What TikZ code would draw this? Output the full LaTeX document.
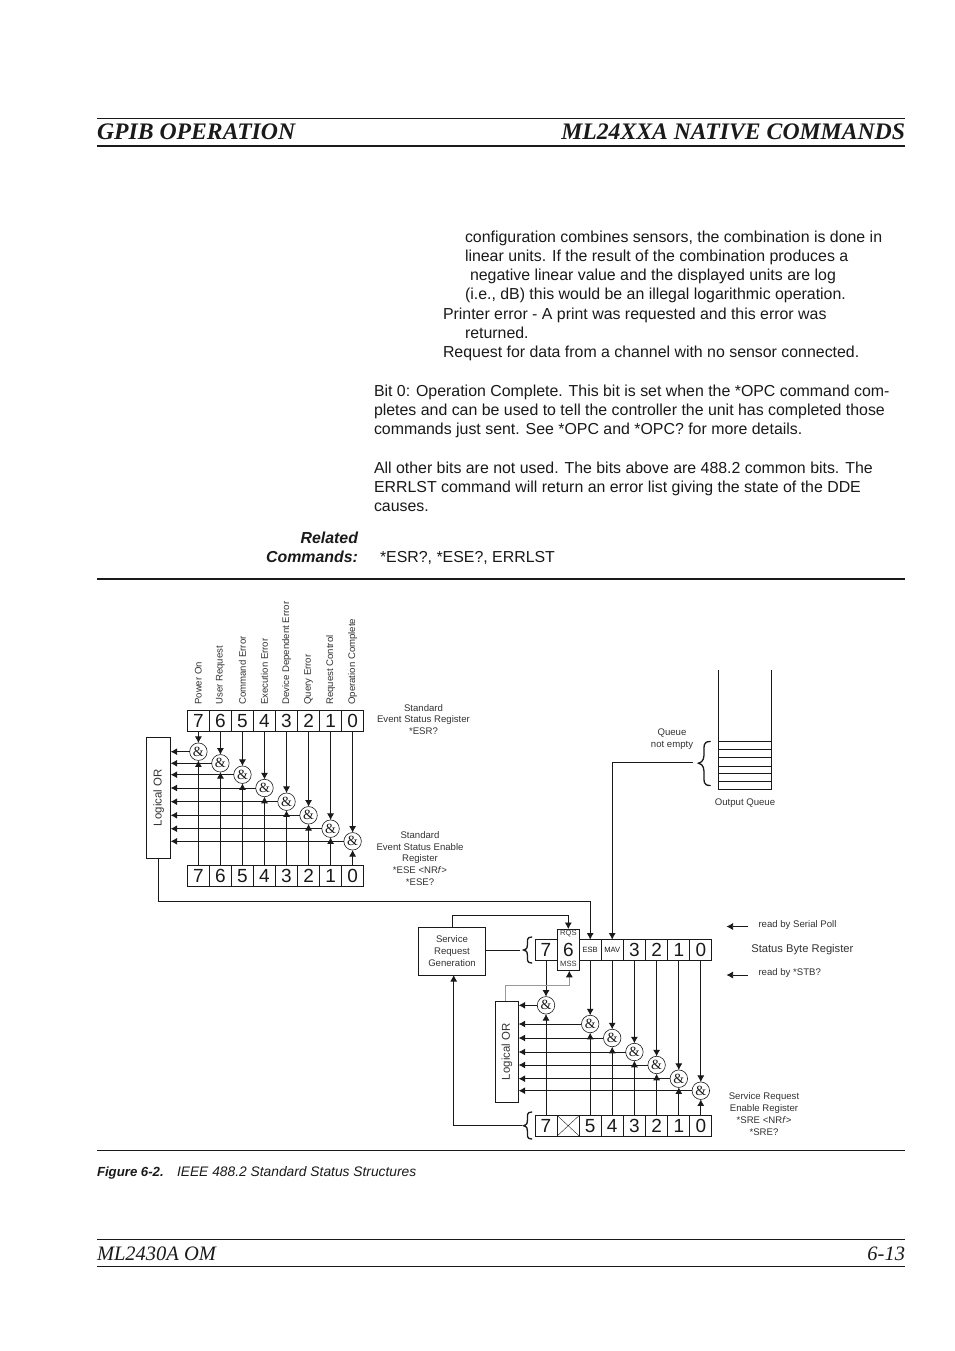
\documentclass[tikz,border=0pt]{standalone}
\usepackage{fontspec}
\setmainfont{Liberation Sans}
\newfontfamily\hdfont{Liberation Serif}
\usetikzlibrary{arrows.meta,calc}
\definecolor{ink}{HTML}{1A1A1A}
\definecolor{lab}{HTML}{333333}
\definecolor{gline}{HTML}{999999}
\newcommand{\fs}[1]{\fontsize{#1}{#1}\selectfont}
\tikzset{
  x=1pt,y=-1pt,
  every node/.style={inner sep=0pt,outer sep=0pt,text=ink},
  wire/.style={draw=ink,line width=0.75pt},
  arr/.style={wire,-{Latex[length=6.5pt,width=7pt]}},
  cell/.style={draw=ink,line width=0.8pt,minimum width=22.05pt,minimum height=20.5pt,font=\fs{19}},
  smallcell/.style={cell,font=\fs{7.6}},
  andgate/.style={circle,draw=ink,line width=0.6pt,fill=white,minimum size=17.5pt,font=\hdfont\fs{14}},
  orbox/.style={draw=ink,line width=0.8pt,fill=white,font=\fs{11.4}},
  lbl/.style={text=lab,font=\fs{9.6},align=center},
  vlbl/.style={text=lab,font=\fs{9.6},rotate=90,anchor=west},
  body/.style={anchor=base west,font=\fs{15.9}},
  rule/.style={draw=ink},
  hd/.style={font=\hdfont\bfseries\itshape\fs{23.7},anchor=base west},
  foot/.style={font=\hdfont\itshape\fs{20.5},anchor=base west},
  brc/.style={draw=ink,line width=1.3pt,line cap=round},
}
\begin{document}
\begin{tikzpicture}
\useasboundingbox (0,0) rectangle (954,1351);
\fill[white] (0,0) rectangle (954,1351);
% page header
\draw[rule,line width=0.7pt] (97,118) -- (905,118);
\draw[rule,line width=1.5pt] (97,146) -- (905,146);
\node[hd] (h1) at (97,140) {GPIB OPERATION};
\node[hd,anchor=base east] (h2) at (905,140) {ML24XXA NATIVE COMMANDS};
% body text
\foreach \n/\xx/\yy/\t in {
 a/465/242/{configuration combines sensors, the combination is done in},
 b/465/261/{linear units. If the result of the combination produces a},
 c/470/280/{negative linear value and the displayed units are log},
 d/465/299/{(i.e., dB) this would be an illegal logarithmic operation.},
 e/443/319/{Printer error - A print was requested and this error was},
 f/465/338/{returned.},
 g/443/357/{Request for data from a channel with no sensor connected.},
 h/374/396/{Bit 0: Operation Complete. This bit is set when the *OPC command com-},
 i/374/415/{pletes and can be used to tell the controller the unit has completed those},
 j/374/434/{commands just sent. See *OPC and *OPC? for more details.},
 k/374/473/{All other bits are not used. The bits above are 488.2 common bits. The},
 l/374/492/{ERRLST command will return an error list giving the state of the DDE},
 m/374/511/{causes.},
 n/380/562/{*ESR?, *ESE?, ERRLST}}
 {\node[body] (txt\n) at (\xx,\yy) {\t};}
\node[font=\bfseries\itshape\fs{15.9},anchor=base east] (rc1) at (358,543) {Related};
\node[font=\bfseries\itshape\fs{15.9},anchor=base east] (rc2) at (358,562) {Commands:};
\draw[rule,line width=1.5pt] (97,579) -- (905,579);
% upper block: registers
\foreach \i [evaluate=\i as \xx using {198.4+22.03*(7-\i)}] in {7,...,0} {
  \node[cell] (t\i) at (\xx,720.7) {\i};
  \node[cell] (b\i) at (\xx,875.7) {\i};
}
\foreach \i/\yy in {7/751.7,6/763.3,5/774.7,4/788,3/801.7,2/815.3,1/828.7,0/841.3} {
  \node[andgate] (c\i) at (t\i |- 0,\yy) {\&};
}
\node[orbox,minimum width=24pt,minimum height=121pt] (orA) at (158.7,797.8) {};
\node[font=\fs{11.4},text=lab,rotate=90] (orAt) at (orA) {Logical OR};
\foreach \i in {7,...,0} {
  \draw[arr] (t\i) -- (c\i);
  \draw[arr] (b\i) -- (c\i);
  \draw[arr] (c\i) -- (orA.east |- c\i);
}
% rotated labels
\foreach \i/\t in {7/Power On,6/User Request,5/Command Error,4/Execution Error,3/Device Dependent Error,2/Query Error,1/Request Control,0/Operation Complete} {
  \node[vlbl] (v\i) at ($(t\i)+(0,-16)$) {\t};
}
\node[lbl] (esr) at (423.5,719.5) {Standard\\[2.3pt]Event Status Register\\[2.3pt]*ESR?};
\node[lbl] (ese) at (420,858.5) {Standard\\[2.3pt]Event Status Enable\\[2.3pt]Register\\[2.3pt]*ESE <NR\textit{f}>\\[2.3pt]*ESE?};
% output queue
\coordinate (qtl) at (718.4,670);
\coordinate (qtr) at (771.6,670);
\coordinate (qbl) at (718.4,789.3);
\coordinate (qbr) at (771.6,789.3);
\draw[wire,line width=0.9pt] (qtl) -- (qbl) -- (qbr) -- (qtr);
\foreach \yy in {741.3,749.3,757.3,766,773.3,781.3} {
  \draw[wire] (718.4,\yy) -- (771.6,\yy);
}
\node[lbl] (qne) at (672,739.5) {Queue\\[2.3pt]not empty};
\node[lbl] (oq) at (745,803.5) {Output Queue};
\draw[brc] (710.2,741.5) .. controls (703,741.5) and (704,746) .. (704,752)
  .. controls (704,757) and (704,762) .. (698.5,763.2)
  .. controls (704,764.5) and (704,769) .. (704,775)
  .. controls (704,781) and (703,785.5) .. (710.2,785.5);
\coordinate (qf) at (692.7,762.7);
% lower block: status byte register
\foreach \i/\xx in {7/546,5/590.2,4/612.2,3/634.4,2/656.6,1/678.8,0/700.8} {
  \node[cell] (sb\i) at (\xx,1125.7) {\i};
}
\node[cell] (sbx) at (568.2,1125.7) {};
\draw[wire,line width=0.4pt] (sbx.north west) -- (sbx.south east) (sbx.north east) -- (sbx.south west);
\node[cell] (s7) at (546,949.8) {7};
\node[smallcell] (sE) at (590.2,949.8) {ESB};
\node[smallcell] (sM) at (612.2,949.8) {MAV};
\node[cell] (s3) at (634.4,949.8) {3};
\node[cell] (s2) at (656.6,949.8) {2};
\node[cell] (s1) at (678.8,949.8) {1};
\node[cell] (s0) at (700.8,949.8) {0};
\node[cell,line width=1pt,minimum width=22.3pt,minimum height=41.7pt,fill=white] (s6) at (568.4,949.9) {6};
\node[font=\fs{7.6},text=lab] (rqs) at (568.4,934) {RQS};
\node[font=\fs{7.6},text=lab] (mss) at (568.4,964) {MSS};
\foreach \i/\s/\yy in {7/s7/1005.3,5/sE/1024,4/sM/1038,3/s3/1052,2/s2/1065,1/s1/1078.7,0/s0/1090.7} {
  \node[andgate] (d\i) at (sb\i |- 0,\yy) {\&};
}
\node[orbox,minimum width=23.4pt,minimum height=101pt] (orB) at (507,1051.8) {};
\node[font=\fs{11.4},text=lab,rotate=90] (orBt) at (orB) {Logical OR};
\foreach \i/\s in {7/s7,5/sE,4/sM,3/s3,2/s2,1/s1,0/s0} {
  \draw[arr] (\s) -- (d\i);
  \draw[arr] (sb\i) -- (d\i);
  \draw[arr] (d\i) -- (orB.east |- d\i);
}
\node[draw=ink,line width=0.8pt,minimum width=67.4pt,minimum height=47.7pt,align=center,text=lab,font=\fs{9.6}] (srg) at (452,951.2)
  {Service\\[2.3pt]Request\\[2.3pt]Generation};
% feedback
\coordinate (fbk) at (452.3,915);
\draw[arr] (srg.north -| fbk) -- (fbk) -| (s6.north -| 568.3,0);
\draw[wire,draw=gline] (orB.north -| 505.7,0) |- (535,985.7) -- (569.3,985.7);
\draw[arr,draw=gline,{-{Latex[length=6.5pt,width=7pt,color=ink]}}] (569.3,985.7) -- (s6.south -| 569.3,0);
% OR output of upper block to ESB
\coordinate (orAo) at (orA.south);
\draw[arr] (orAo) |- (400,901.3) -| (sE.north);
% queue to MAV
\draw[arr] (qf) -| (sM.north);
% braces and links
\coordinate (b1t) at (532.2,937);
\draw[brc] (531.8,937) .. controls (526.5,937) and (527.5,940.5) .. (527.5,944)
  .. controls (527.5,947) and (527.5,949) .. (523.5,950)
  .. controls (527.5,951) and (527.5,953) .. (527.5,956)
  .. controls (527.5,959.5) and (526.5,963) .. (531.8,963);
\draw[brc] (531.8,1112) .. controls (526.5,1112) and (527.5,1115.5) .. (527.5,1119.5)
  .. controls (527.5,1122.5) and (527.5,1124.7) .. (523.5,1125.7)
  .. controls (527.5,1126.7) and (527.5,1129) .. (527.5,1132)
  .. controls (527.5,1135.5) and (526.5,1139) .. (531.8,1139);
\coordinate (lk1) at (520,950);
\draw[wire] (srg.east |- lk1) -- (lk1);
\coordinate (lk2) at (521.7,1125.7);
\draw[arr] (lk2) -| (srg.south -| 453.7,0);
% right side labels
\coordinate (rs1) at (748,926.5);
\coordinate (rs2) at (748,975);
\draw[arr] (rs1) -- +(-21.5,0);
\draw[arr] (rs2) -- +(-21.5,0);
\node[lbl,anchor=west] (rsp) at (758.5,924.8) {read by Serial Poll};
\node[lbl,anchor=west] (rstb) at (758.5,973.3) {read by *STB?};
\node[lbl,anchor=west,font=\fs{11.2}] (sbr) at (751.3,949.3) {Status Byte Register};
\node[lbl] (sre) at (764,1114.2) {Service Request\\[2.3pt]Enable Register\\[2.3pt]*SRE <NR\textit{f}>\\[2.3pt]*SRE?};
% caption and footer
\draw[rule,line width=0.8pt] (97,1150.5) -- (905,1150.5);
\node[font=\bfseries\itshape\fs{13.2},anchor=base west] (figa) at (97,1176) {Figure 6-2.};
\node[font=\itshape\fs{13.8},anchor=base west] (figb) at (177,1176) {IEEE 488.2 Standard Status Structures};
\draw[rule,line width=0.7pt] (97,1239) -- (905,1239);
\draw[rule,line width=0.7pt] (97,1266.5) -- (905,1266.5);
\node[foot] (f1) at (97,1260) {ML2430A OM};
\node[foot,anchor=base east] (f2) at (905,1260) {6-13};
\end{tikzpicture}
\end{document}
